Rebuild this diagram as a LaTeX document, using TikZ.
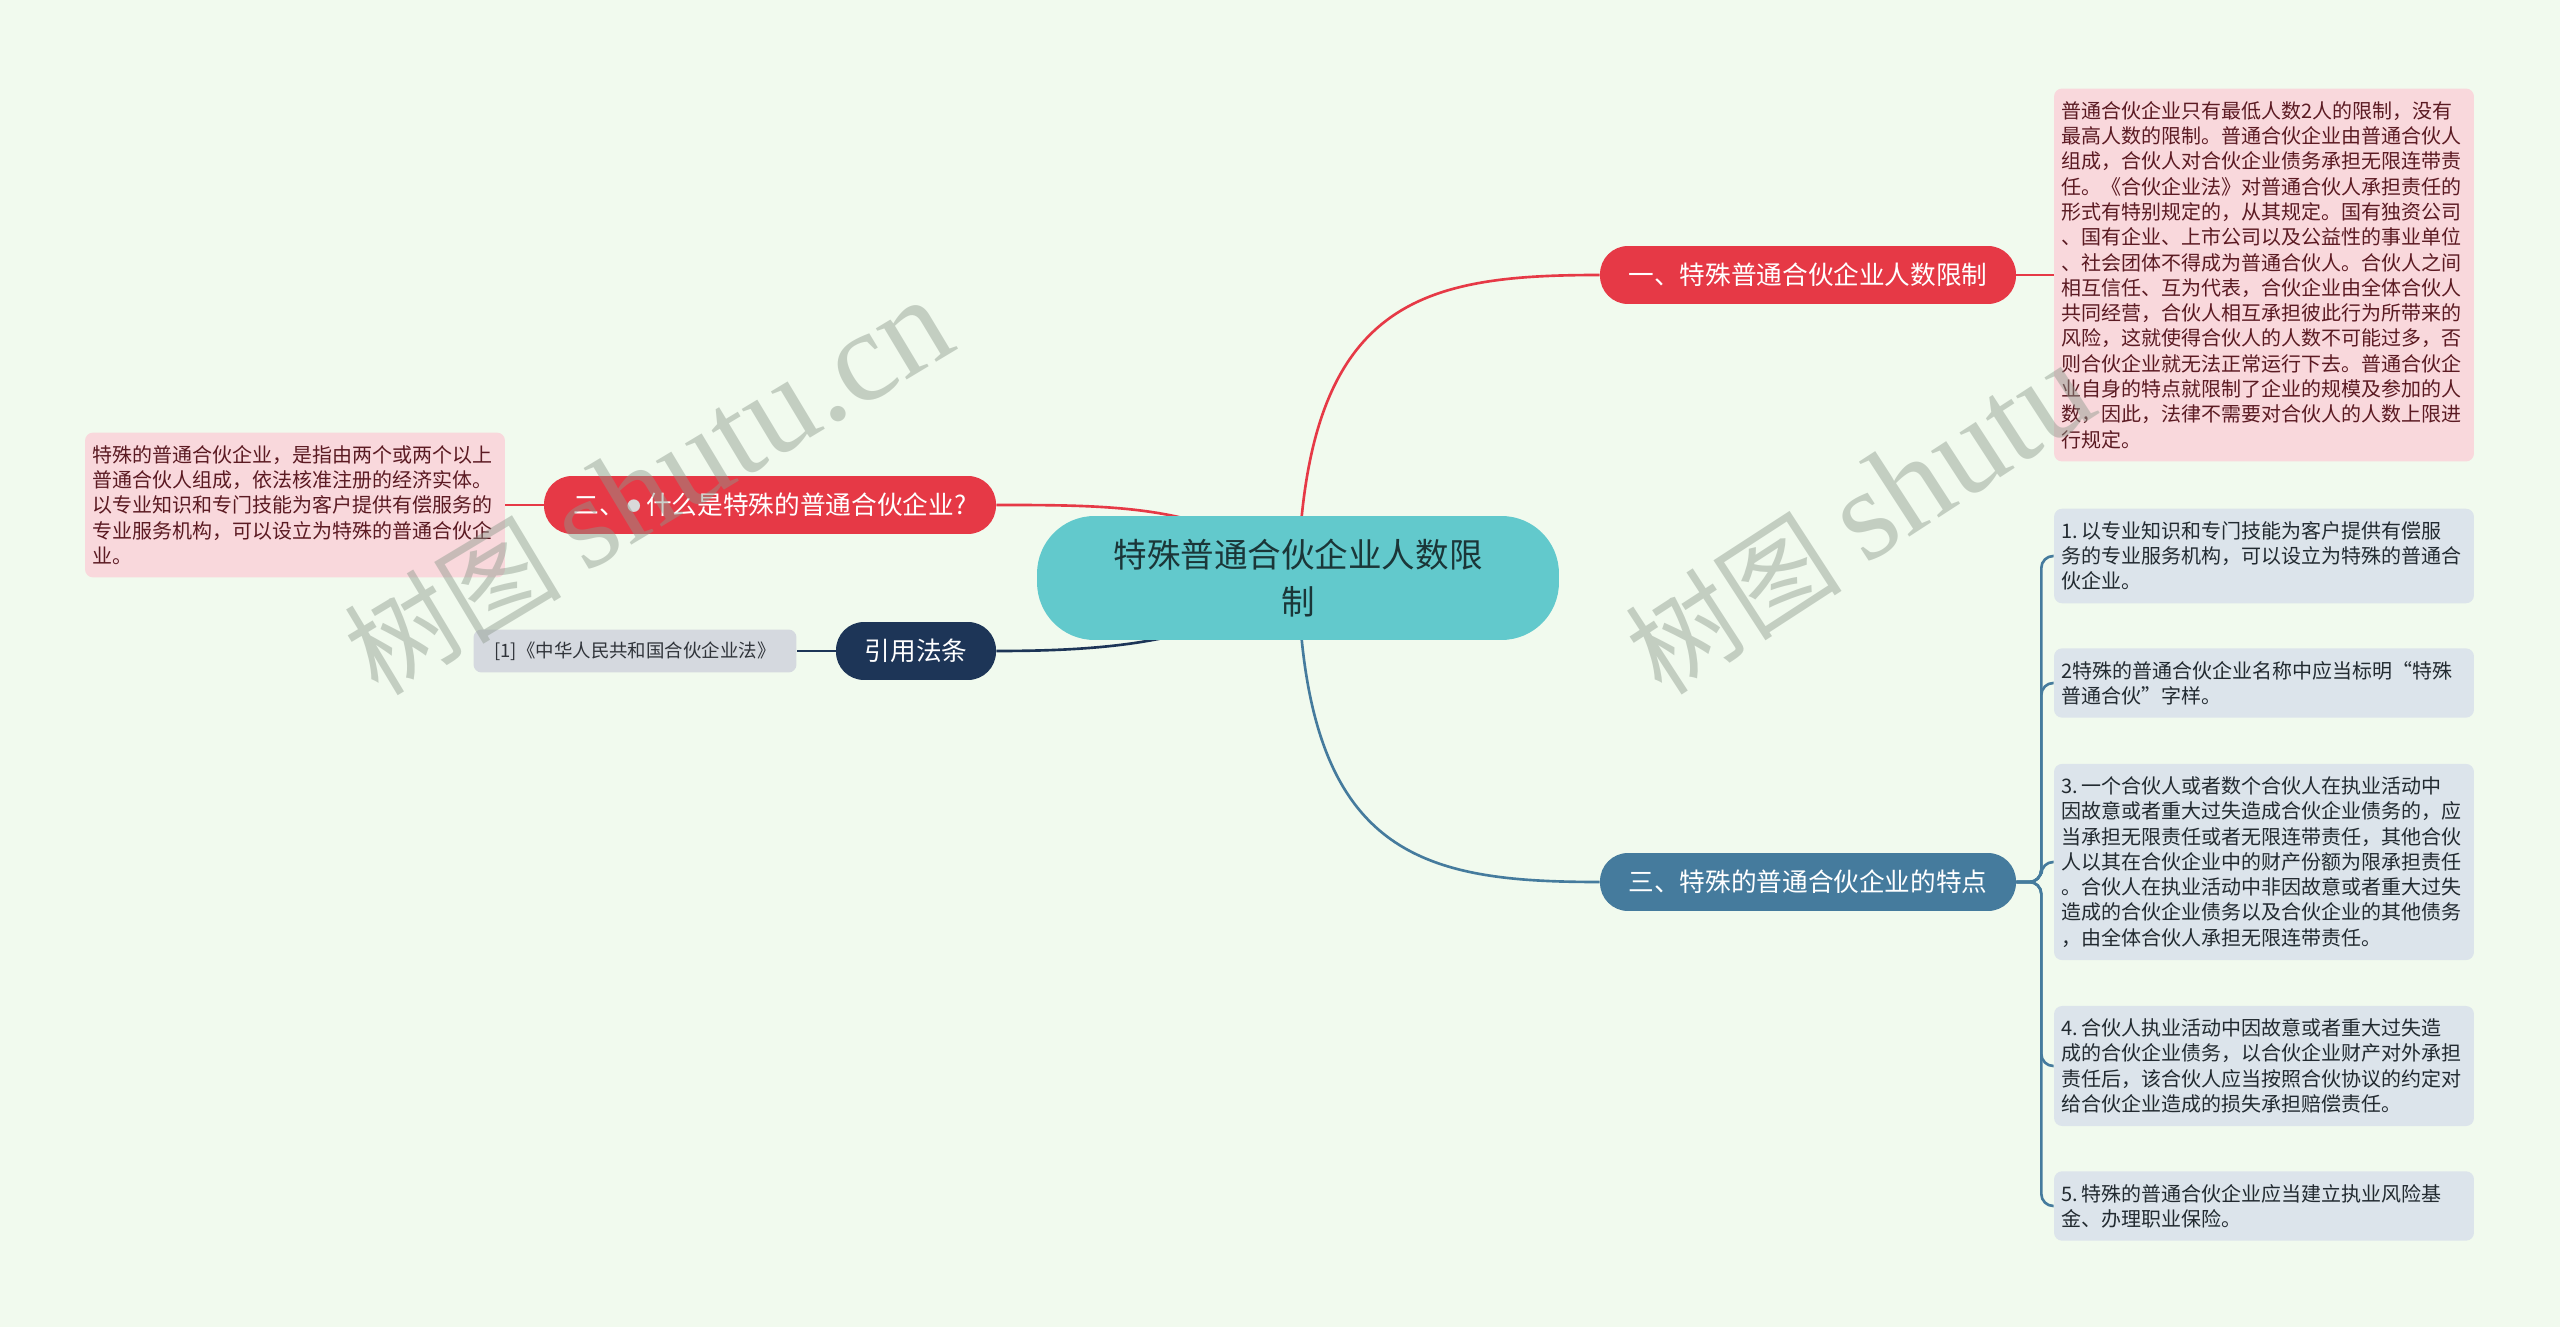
\documentclass[tikz,border=0pt]{standalone}
\usepackage{fontspec}
\setmainfont{Noto Sans CJK SC}
\newfontfamily\wmserif{Liberation Serif}
\usetikzlibrary{positioning}

\definecolor{pagebg}{HTML}{F1FAEE}
\definecolor{mmred}{HTML}{E63946}
\definecolor{mmblue}{HTML}{457B9D}
\definecolor{mmnavy}{HTML}{1D3557}
\definecolor{rootteal}{HTML}{62C9CC}
\definecolor{roottext}{HTML}{1B3638}
\definecolor{leafpink}{HTML}{F9D8DC}
\definecolor{pinktext}{HTML}{5B1A22}
\definecolor{leafblue}{HTML}{DCE4EB}
\definecolor{bluetext}{HTML}{222A30}
\definecolor{leafgray}{HTML}{D5D9DF}
\definecolor{graytext}{HTML}{30343A}
\definecolor{dotgray}{HTML}{D9D9D9}
\definecolor{wmgray}{HTML}{8C998C}

\pgfdeclarelayer{background}
\pgfdeclarelayer{front}
\pgfsetlayers{background,main,front}

\tikzset{
  root/.style={fill=rootteal, text=roottext, rounded corners=1.15cm,
    minimum width=10.44cm, minimum height=2.48cm, align=center,
    font=\fontsize{19.1}{26.7}\selectfont},
  topic/.style={rounded corners=0.56cm, minimum height=1.16cm, text=white,
    font=\fontsize{14.6}{17.5}\selectfont},
  redtopic/.style={topic, fill=mmred},
  bluetopic/.style={topic, fill=mmblue},
  navytopic/.style={topic, fill=mmnavy},
  leaf/.style={rounded corners=0.16cm, text width=8.1cm, inner xsep=0.15cm,
    inner ysep=0.254cm, align=left, font=\fontsize{11.38}{14.4}\selectfont},
  pinkleaf/.style={leaf, fill=leafpink, text=pinktext},
  blueleaf/.style={leaf, fill=leafblue, text=bluetext},
  grayleaf/.style={rounded corners=0.16cm, fill=leafgray, text=graytext,
    minimum width=6.46cm, minimum height=0.86cm,
    font=\fontsize{10.5}{12}\selectfont},
  link/.style={line width=1.5pt},
  redlink/.style={link, draw=mmred},
  bluelink/.style={link, draw=mmblue},
  navylink/.style={link, draw=mmnavy},
  watermark/.style={text=wmgray, text opacity=0.45, inner sep=0pt,
    font=\fontsize{62}{62}\selectfont}
}

\begin{document}
\begin{tikzpicture}[x=0.02cm, y=-0.02cm]
\useasboundingbox (0,0) rectangle (2560,1327);

% Nodes
\node[root] (root) at (1298,578) {特殊普通合伙企业人数限\\制};

\node[redtopic, minimum width=8.32cm] (topic1) at (1808,275) {一、特殊普通合伙企业人数限制};
\node[redtopic, minimum width=9.04cm] (topic2) at (770,505) {二、\hspace{1pt}\raisebox{2pt}{\fontsize{8}{8}\selectfont\color{dotgray}●}\hspace{3pt}什么是特殊的普通合伙企业?};
\node[navytopic, minimum width=3.2cm] (topiclaw) at (916,651) {引用法条};
\node[bluetopic, minimum width=8.32cm] (topic3) at (1808,882) {三、特殊的普通合伙企业的特点};

% Details
\node[pinkleaf] (detail1) at (2264,275) {普通合伙企业只有最低人数2人的限制，没有\\
最高人数的限制。普通合伙企业由普通合伙人\\
组成，合伙人对合伙企业债务承担无限连带责\\
任。《合伙企业法》对普通合伙人承担责任的\\
形式有特别规定的，从其规定。国有独资公司\\
、国有企业、上市公司以及公益性的事业单位\\
、社会团体不得成为普通合伙人。合伙人之间\\
相互信任、互为代表，合伙企业由全体合伙人\\
共同经营，合伙人相互承担彼此行为所带来的\\
风险，这就使得合伙人的人数不可能过多，否\\
则合伙企业就无法正常运行下去。普通合伙企\\
业自身的特点就限制了企业的规模及参加的人\\
数，因此，法律不需要对合伙人的人数上限进\\
行规定。};

\node[pinkleaf] (detail2) at (295,505) {特殊的普通合伙企业，是指由两个或两个以上\\
普通合伙人组成，依法核准注册的经济实体。\\
以专业知识和专门技能为客户提供有偿服务的\\
专业服务机构，可以设立为特殊的普通合伙企\\
业。};

\node[grayleaf] (lawref) at (635,651) {[1]《中华人民共和国合伙企业法》};

\node[blueleaf] (point1) at (2264,556) {1.\,以专业知识和专门技能为客户提供有偿服\\
务的专业服务机构，可以设立为特殊的普通合\\
伙企业。};
\node[blueleaf] (point2) at (2264,683) {2特殊的普通合伙企业名称中应当标明“特殊\\
普通合伙”字样。};
\node[blueleaf] (point3) at (2264,862) {3.\,一个合伙人或者数个合伙人在执业活动中\\
因故意或者重大过失造成合伙企业债务的，应\\
当承担无限责任或者无限连带责任，其他合伙\\
人以其在合伙企业中的财产份额为限承担责任\\
。合伙人在执业活动中非因故意或者重大过失\\
造成的合伙企业债务以及合伙企业的其他债务\\
，由全体合伙人承担无限连带责任。};
\node[blueleaf] (point4) at (2264,1066) {4.\,合伙人执业活动中因故意或者重大过失造\\
成的合伙企业债务，以合伙企业财产对外承担\\
责任后，该合伙人应当按照合伙协议的约定对\\
给合伙企业造成的损失承担赔偿责任。};
\node[blueleaf] (point5) at (2264,1206) {5.\,特殊的普通合伙企业应当建立执业风险基\\
金、办理职业保险。};

% Links
\begin{pgfonlayer}{background}
\fill[pagebg] (0,0) rectangle (2560,1327);
\draw[redlink] (root.center) .. controls (1305,300) and (1420,275) .. (topic1.west);
\draw[redlink] (topic1.east) -- (detail1.west);
\draw[redlink] (root.center) .. controls (1220,505) and (1120,505) .. (topic2.east);
\draw[redlink] (topic2.west) -- (detail2.east);
\draw[navylink] (root.center) .. controls (1220,640) and (1120,651) .. (topiclaw.east);
\draw[navylink] (topiclaw.west) -- (lawref.east);
\draw[bluelink] (root.center) .. controls (1305,856) and (1420,882) .. (topic3.west);
\foreach \n in {1,...,5}
  \draw[bluelink, rounded corners=0.24cm] (topic3.east) -- ++(25,0) |- (point\n.west);
\end{pgfonlayer}

% Watermarks
\begin{pgfonlayer}{front}
\node[watermark, rotate=31, anchor=base west] (wmleft) at (378,698) {树图 {\wmserif\fontsize{74}{74}\selectfont shutu.cn}};
\node[watermark, rotate=33, anchor=base west] (wmright) at (1662,698) {树图 {\wmserif\fontsize{74}{74}\selectfont shutu}};
\end{pgfonlayer}
\end{tikzpicture}
\end{document}
